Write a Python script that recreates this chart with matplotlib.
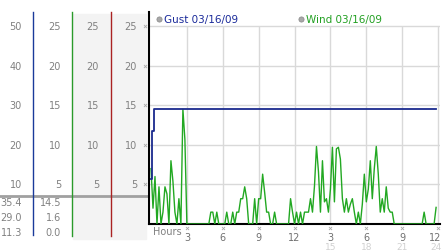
import numpy as np
import matplotlib
matplotlib.use("Agg")
import matplotlib.pyplot as plt
from matplotlib import transforms
from matplotlib.patches import Rectangle

# wind speed, one reading every 10 minutes over 24 hours
wind = [7, 2, 6, 0, 4.7, 0,
        1.5, 4.7, 3.8, 0, 8, 5.4,
        1.5, 0, 3.2, 0, 14.5, 10.7,
        0, 0, 0, 0, 0, 0,
        0, 0, 0, 0, 0, 0,
        1.5, 1.5, 0, 1.5, 0, 0,
        0, 0, 1.5, 0, 0, 1.5,
        0, 1.5, 1.5, 3.2, 3.2, 4.7,
        3.2, 0, 0, 0, 3.2, 0,
        3.2, 3.2, 6.3, 4.0, 1.5, 1.5,
        0, 0, 1.5, 0, 0, 0,
        0, 0, 0, 0, 3.2, 1.5,
        0, 1.5, 0, 1.5, 0, 1.5,
        1.5, 1.5, 3.2, 1.5, 4.8, 9.8,
        6.6, 1.5, 8.0, 2.8, 3.2, 1.5,
        4.4, 9.7, 2.8, 9.5, 9.7, 8.2,
        3.2, 1.5, 3.2, 1.5, 2.5, 3.2,
        1.5, 0, 1.5, 0, 2.5, 6.3,
        2.8, 4.4, 8.0, 3.2, 7.0, 9.8,
        6.3, 1.5, 3.2, 1.5, 4.7, 2.0,
        1.5, 1.5, 0, 0, 0, 0,
        0, 0, 0, 0, 0, 0,
        0, 0, 0, 0, 0, 1.5,
        0, 0, 0, 0, 0, 2.1]
wind_hours = np.arange(len(wind)) / 6.0

# peak gust (step changes)
gust_hours = [0, 0.05, 0.1, 0.25, 23.85]
gust = [5.7, 9.0, 11.7, 14.5, 14.5]

grid_y = [5, 10, 15, 20, 25]
grid_x = [3, 6, 9, 12, 15, 18, 21, 24]
hour_labels = ["3", "6", "9", "12", "3", "6", "9", "12"]
hour_labels2 = {15: "15", 18: "18", 21: "21", 24: "24"}

scale1 = [10, 20, 30, 40, 50]
scale2 = [5, 10, 15, 20, 25]
stats1 = ["35.4", "29.0", "11.3"]
stats2 = ["14.5", "1.6", "0.0"]

W, H = 442, 253
fig = plt.figure(figsize=(W / 100, H / 100), dpi=100)
fig.patch.set_facecolor("white")

# overlay in pixel units for the side table and labels
ov = fig.add_axes([0, 0, 1, 1])
ov.set_xlim(0, W)
ov.set_ylim(H, 0)
ov.axis("off")

ax = fig.add_axes([149 / W, (H - 225) / H, 291 / W, 212 / H])
ax.set_xlim(-0.167, 24.16)
ax.set_ylim(0, 26.8)
ax.set_facecolor("none")
for s in ["top", "right"]:
    ax.spines[s].set_visible(False)
ax.spines["left"].set_linewidth(1.5)
ax.spines["bottom"].set_linewidth(1.5)
ax.set_xticks([])
ax.set_yticks([])

ax.hlines(grid_y, -0.167, 24.16, color="#d9d9d9", lw=1, zorder=1)
ax.vlines(grid_x, 0, 25, color="#d9d9d9", lw=1, zorder=1)

ax.plot(wind_hours, wind, color="#22a822", lw=1, zorder=3)
ax.plot(gust_hours, gust, color="#1a2a8e", lw=1.3, drawstyle="steps-post", zorder=4)

# side table
ov.add_patch(Rectangle((73, 15), 38, 225, color="#f3f3f3", zorder=0))
ov.add_patch(Rectangle((112, 15), 34, 225, color="#f3f3f3", zorder=0))
ov.plot([0, 148], [197, 197], color="#a0a0a0", lw=2, zorder=1)
ov.plot([33, 33], [13, 236], color="#1a3a9a", lw=1, zorder=2)
ov.plot([72, 72], [13, 237], color="#2a9a2a", lw=1, zorder=2)
ov.plot([111, 111], [13, 237], color="#aa2222", lw=1, zorder=2)

tr = transforms.blended_transform_factory(ov.transData, ax.transData)
txt = dict(fontsize=7, color="#808080", va="center", ha="right")
for v in scale1:
    ov.text(22, v / 2, str(v), transform=tr, **txt)
for v in scale2:
    for xr in (61, 99, 137):
        ov.text(xr, v, str(v), transform=tr, **txt)
ov.scatter([145] * len(grid_y), grid_y, transform=tr, marker="x", s=5,
           color="#aaaaaa", lw=0.6)
for i, (a, b) in enumerate(zip(stats1, stats2)):
    y = 203 + i * 15
    ov.text(22, y, a, **txt)
    ov.text(61, y, b, **txt)

# legend
ov.scatter([159, 301], [20, 20], s=14, color="#a8a8a8", edgecolor="#888888", lw=0.5)
ov.text(164, 20, "Gust 03/16/09", color="#1a2a9a", fontsize=7.5, va="center")
ov.text(306, 20, "Wind 03/16/09", color="#22a022", fontsize=7.5, va="center")

# hour axis labels
trx = transforms.blended_transform_factory(ax.transData, ov.transData)
ov.text(153, 232, "Hours", color="#808080", fontsize=7, va="center")
ov.scatter(grid_x, [229] * len(grid_x), transform=trx, marker="x", s=5,
           color="#aaaaaa", lw=0.6)
for x, lab in zip(grid_x, hour_labels):
    edge = x == grid_x[-1]
    ov.text(x + (0.3 if edge else 0), 238, lab, transform=trx, color="#707070",
            fontsize=7, ha="right" if edge else "center", va="center")
for x, lab in hour_labels2.items():
    edge = x == grid_x[-1]
    ov.text(x + (0.3 if edge else 0), 247.5, lab, transform=trx, color="#d0d0d0",
            fontsize=6.5, ha="right" if edge else "center", va="center")

fig.savefig("out.png", dpi=100)
